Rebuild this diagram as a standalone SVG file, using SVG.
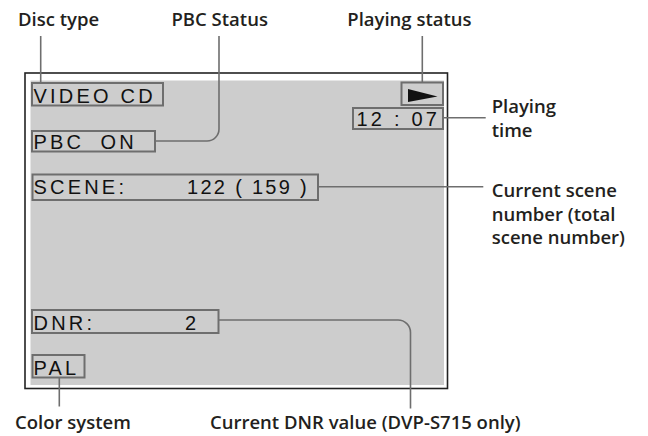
<svg xmlns="http://www.w3.org/2000/svg" width="648" height="436" viewBox="0 0 648 436">
<style>
.lbl{font-family:"Open Sans","Liberation Sans",sans-serif;font-weight:600;font-size:18.5px;fill:#231f20}
.osd{font-family:"Liberation Sans",Arial,sans-serif;font-size:20px;letter-spacing:3.2px;fill:#111}
.box{fill:none;stroke:#6e6e6e;stroke-width:2}
.lead{fill:none;stroke:#6e6e6e;stroke-width:1.6}
</style>
<rect width="648" height="436" fill="#fff"/>
<g id="screen">
<rect x="25" y="73" width="422.5" height="315.5" fill="#fff" stroke="#222" stroke-width="1.6"/>
<rect x="30.5" y="80.5" width="413.5" height="304.5" fill="#cdcdcd"/>
</g>
<g id="connectors">
<path class="lead" d="M40.7 36V83"/>
<path class="lead" d="M219 36V129a12 12 0 0 1 -12 12H156"/>
<path class="lead" d="M422.3 36V82"/>
<path class="lead" d="M443 117.7H485.7"/>
<path class="lead" d="M318 186.7H483.3"/>
<path class="lead" d="M218.5 320H398a12.5 12.5 0 0 1 12.5 12.5V408.5"/>
<path class="lead" d="M59.3 377.5V406.5"/>
</g>
<g id="disc-type">
<rect class="box" x="32" y="83" width="131" height="22.5"/>
<text class="osd" x="33.5" y="103">VIDEO CD</text>
<text class="lbl" x="18" y="25.5">Disc type</text>
</g>
<g id="pbc-status">
<rect class="box" x="32" y="131" width="123" height="20.5"/>
<text class="osd" x="33.5" y="149">PBC</text>
<text class="osd" x="100.5" y="149">ON</text>
<text class="lbl" x="171.5" y="25.5">PBC Status</text>
</g>
<g id="playing-status">
<rect class="box" x="401.5" y="82.5" width="41.5" height="22.5"/>
<polygon points="408,89 437.5,96.5 408,102" fill="#111"/>
<text class="lbl" x="347.3" y="26">Playing status</text>
</g>
<g id="playing-time">
<rect class="box" x="353" y="108" width="90" height="21"/>
<text class="osd" x="356.5" y="126">12 : 07</text>
<text class="lbl" x="491.7" y="112.5">Playing</text>
<text class="lbl" x="491.7" y="137">time</text>
</g>
<g id="scene">
<rect class="box" x="32.5" y="174.5" width="285.5" height="25.5"/>
<text class="osd" x="33.5" y="194">SCENE:</text>
<text class="osd" x="187" y="194" style="letter-spacing:2.3px">122 ( 159 )</text>
<text class="lbl" x="491.7" y="196.5">Current scene</text>
<text class="lbl" x="491.7" y="220.5">number (total</text>
<text class="lbl" x="491.7" y="244">scene number)</text>
</g>
<g id="dnr">
<rect class="box" x="32" y="310" width="186.5" height="23"/>
<text class="osd" x="33.5" y="330">DNR:</text>
<text class="osd" x="185" y="330">2</text>
<text class="lbl" x="210" y="429">Current DNR value (DVP-S715 only)</text>
</g>
<g id="color-system">
<rect class="box" x="32.5" y="355" width="52" height="22.5"/>
<text class="osd" x="33.5" y="375">PAL</text>
<text class="lbl" x="15" y="429">Color system</text>
</g>
</svg>
